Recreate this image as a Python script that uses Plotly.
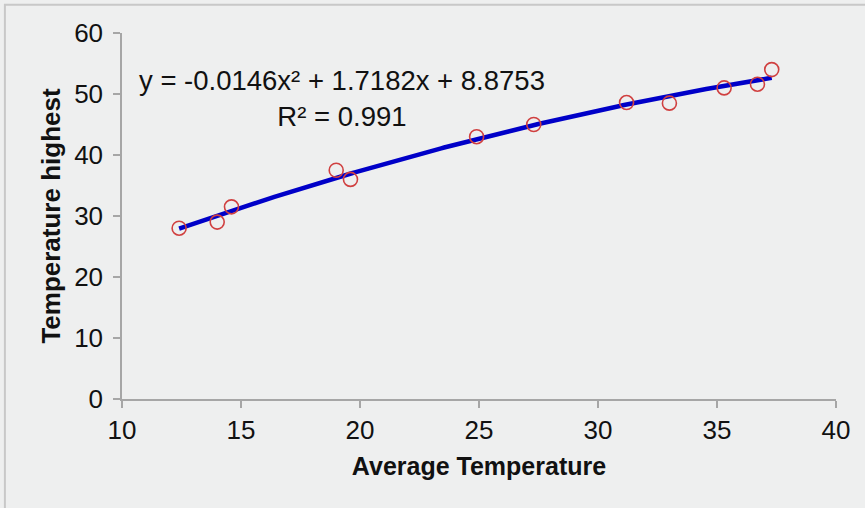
import numpy as np
import plotly.graph_objects as go

# Data
avg_temp = [12.4, 14.0, 14.6, 19.0, 19.6, 24.9, 27.3, 31.2, 33.0, 35.3, 36.7, 37.3]
temp_highest = [28.0, 29.0, 31.5, 37.5, 36.0, 43.0, 45.0, 48.6, 48.5, 51.0, 51.6, 54.0]
# Trendline coefficients (as printed on the chart): a*x^2 + b*x + c
trend_coeffs = [-0.0146, 1.7182, 8.8753]
r_squared = 0.991
x_ticks = [10, 15, 20, 25, 30, 35, 40]
y_ticks = [0, 10, 20, 30, 40, 50, 60]

xs = np.linspace(min(avg_temp), max(avg_temp), 200)
ys = np.polyval(trend_coeffs, xs)

FONT = "Liberation Sans, Arial, sans-serif"

fig = go.Figure()
fig.add_trace(go.Scatter(
    x=xs, y=ys, mode="lines",
    line=dict(color="#0000c8", width=4.5),
    hoverinfo="skip", showlegend=False,
))
fig.add_trace(go.Scatter(
    x=avg_temp, y=temp_highest, mode="markers",
    marker=dict(symbol="circle-open", size=14, color="#d04040", line=dict(width=1.6, color="#d04040")),
    showlegend=False,
))

axis_common = dict(
    showgrid=False, zeroline=False, showline=True,
    linecolor="#a6a6a6", linewidth=1.5,
    ticks="outside", ticklen=7, tickcolor="#a6a6a6", tickwidth=1.5,
    tickfont=dict(family=FONT, size=26, color="#111111"),
)

fig.update_layout(
    width=865, height=508,
    margin=dict(l=122, r=29, t=33, b=109),
    paper_bgcolor="#eeefef",
    plot_bgcolor="#eeefef",
    xaxis=dict(
        range=[10, 40], tickvals=x_ticks,
        title=dict(text="<b>Average Temperature</b>", standoff=14,
                   font=dict(family=FONT, size=25, color="#111111")),
        **axis_common,
    ),
    yaxis=dict(
        range=[0, 60], tickvals=y_ticks, ticklabelstandoff=5,
        title=dict(text="<b>Temperature highest</b>", standoff=6,
                   font=dict(family=FONT, size=26, color="#111111")),
        **axis_common,
    ),
    annotations=[
        dict(
            x=0.308, y=0.821, xref="paper", yref="paper",
            xanchor="center", yanchor="middle",
            text="y = -0.0146x² + 1.7182x + 8.8753<br>R² = " + str(r_squared),
            showarrow=False, align="center",
            font=dict(family=FONT, size=27.5, color="#111111"),
        )
    ],
    shapes=[
        dict(type="rect", xref="paper", yref="paper",
             x0=-0.164, x1=1.2, y0=-0.5, y1=1.077,
             line=dict(color="#c8c8c8", width=2), fillcolor="rgba(0,0,0,0)", layer="below")
    ],
)

fig.write_html("out.html", config={"displayModeBar": False},
               post_script="document.body.style.margin='0';")
